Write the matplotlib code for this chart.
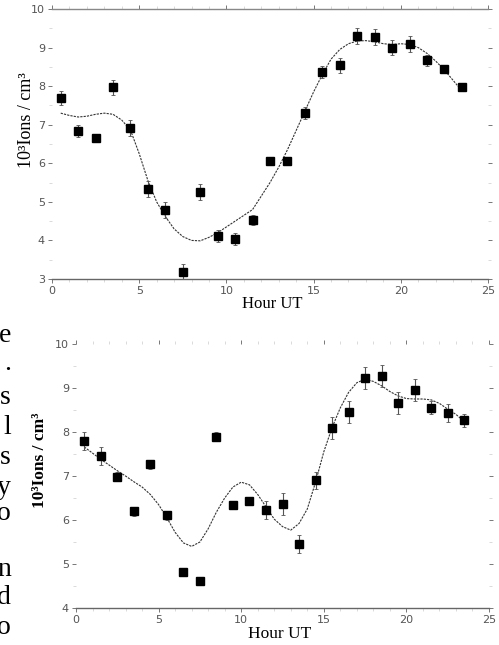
import matplotlib.pyplot as plt
import numpy as np

# hourly bins (UT)
hours = [0.5, 1.5, 2.5, 3.5, 4.5, 5.5, 6.5, 7.5, 8.5, 9.5, 10.5, 11.5,
         12.5, 13.5, 14.5, 15.5, 16.5, 17.5, 18.5, 19.5, 20.5, 21.5, 22.5, 23.5]

# upper panel: measured ion density (10^3 ions/cm^3)
top_vals = [7.69, 6.83, 6.65, 7.97, 6.91, 5.33, 4.79, 3.18, 5.25, 4.11, 4.04, 4.53,
            6.06, 6.06, 7.30, 8.36, 8.54, 9.30, 9.27, 9.00, 9.09, 8.67, 8.44, 7.97]
top_err = [0.18, 0.15, 0.08, 0.2, 0.2, 0.2, 0.2, 0.2, 0.2, 0.15, 0.15, 0.12,
           0.05, 0.05, 0.15, 0.15, 0.2, 0.22, 0.2, 0.2, 0.2, 0.15, 0.1, 0.1]

# lower panel
bot_vals = [7.80, 7.45, 6.98, 6.20, 7.27, 6.11, 4.82, 4.61, 7.89, 6.34, 6.43, 6.23,
            6.36, 5.45, 6.90, 8.09, 8.45, 9.22, 9.28, 8.66, 8.95, 8.55, 8.43, 8.27]
bot_err = [0.2, 0.2, 0.1, 0.1, 0.1, 0.1, 0.1, 0.05, 0.1, 0.1, 0.1, 0.2,
           0.25, 0.2, 0.2, 0.25, 0.25, 0.25, 0.25, 0.25, 0.25, 0.15, 0.2, 0.15]

# fitted curves, read every half hour
fit_hours = [0.5, 1.0, 1.5, 2.0, 2.5, 3.0, 3.5, 4.0, 4.5, 5.0, 5.5, 6.0, 6.5, 7.0, 7.5, 8.0,
             8.5, 9.0, 9.5, 10.0, 10.5, 11.0, 11.5, 12.0, 12.5, 13.0, 13.5, 14.0, 14.5, 15.0,
             15.5, 16.0, 16.5, 17.0, 17.5, 18.0, 18.5, 19.0, 19.5, 20.0, 20.5, 21.0, 21.5,
             22.0, 22.5, 23.0, 23.5]
top_fit = [7.30, 7.24, 7.20, 7.22, 7.27, 7.30, 7.27, 7.12, 6.86, 6.25, 5.55, 5.00, 4.62, 4.30,
           4.10, 4.00, 3.99, 4.08, 4.20, 4.35, 4.50, 4.65, 4.80, 5.15, 5.50, 5.90, 6.35, 6.85,
           7.35, 7.85, 8.30, 8.70, 8.95, 9.10, 9.17, 9.18, 9.15, 9.10, 9.08, 9.10, 9.08, 9.00,
           8.85, 8.65, 8.42, 8.15, 7.88]
bot_fit = [7.66, 7.52, 7.38, 7.25, 7.12, 7.00, 6.87, 6.75, 6.58, 6.35, 6.05, 5.72, 5.48, 5.40,
           5.50, 5.80, 6.18, 6.50, 6.75, 6.86, 6.80, 6.58, 6.30, 6.02, 5.85, 5.77, 5.92, 6.25,
           6.86, 7.55, 8.10, 8.55, 8.90, 9.12, 9.20, 9.15, 9.05, 8.92, 8.82, 8.76, 8.75, 8.75,
           8.73, 8.65, 8.52, 8.40, 8.24]

# cut-off words of the page text at the left edge
side_chars = ['e', '.', 's', 'l', 's', 'y', 'o', 'n', 'd', 'o']
side_rows = [335, 363, 398, 428, 458, 487, 513, 570, 598, 627]

W, H = 499, 645
fig = plt.figure(figsize=(W / 100, H / 100), dpi=100)


def panel(rect, vals, err, fit, ylo, show_top):
    ax = fig.add_axes(rect)
    ax.errorbar(hours, vals, yerr=err, fmt='none', ecolor='#555555', elinewidth=0.8,
                capsize=1.5, capthick=0.6, zorder=2)
    ax.plot(hours, vals, 's', color='black', ms=6, zorder=3)
    ax.plot(fit_hours, fit, color='#333333', lw=0.8, ls=(0, (2, 1)), zorder=1)
    ax.set_xlim(0, 25)
    ax.set_ylim(ylo, 10)
    ax.set_xticks([0, 5, 10, 15, 20, 25])
    ax.set_yticks(range(ylo, 11))
    ax.set_xticks(np.arange(0, 25, 1), minor=True)
    ax.set_yticks(np.arange(ylo, 10, 0.5), minor=True)
    ax.tick_params(axis='both', which='major', labelsize=8, labelcolor='#555555',
                   color='#777777', length=3, width=0.7, direction='out', pad=2)
    ax.tick_params(axis='both', which='minor', color='#cccccc', length=2, width=0.5,
                   direction='out')
    ax.tick_params(axis='y', which='both', right=True)
    ax.tick_params(axis='x', which='both', top=True)
    for s in ['left', 'right']:
        ax.spines[s].set_visible(False)
    ax.spines['bottom'].set_color('#666666')
    ax.spines['bottom'].set_linewidth(1.0)
    if show_top:
        ax.spines['top'].set_color('#888888')
        ax.spines['top'].set_linewidth(1.0)
    else:
        ax.spines['top'].set_visible(False)
    ax.set_facecolor('none')
    return ax


ax1 = panel([52 / W, 1 - 279 / H, 436 / W, 270 / H], top_vals, top_err, top_fit, 3, True)
ax2 = panel([76 / W, 1 - 608 / H, 413 / W, 264 / H], bot_vals, bot_err, bot_fit, 4, False)

serif = ['Liberation Serif', 'DejaVu Serif']
fig.text(27 / W, 1 - 120 / H, '10³Ions / cm³', rotation=90, ha='center', va='center',
         family=serif, fontsize=13)
fig.text(272 / W, 1 - 304 / H, 'Hour UT', ha='center', va='center', family=serif, fontsize=12)
fig.text(40 / W, 1 - 460 / H, '10³Ions / cm³', rotation=90, ha='center', va='center',
         family=serif, fontsize=12.5, fontweight='bold')
fig.text(280 / W, 1 - 634 / H, 'Hour UT', ha='center', va='center', family=serif, fontsize=12.5)

for ch, row in zip(side_chars, side_rows):
    fig.text(11 / W, 1 - row / H, ch, ha='right', va='center', family=serif, fontsize=20)

fig.savefig('out.png', dpi=100)
